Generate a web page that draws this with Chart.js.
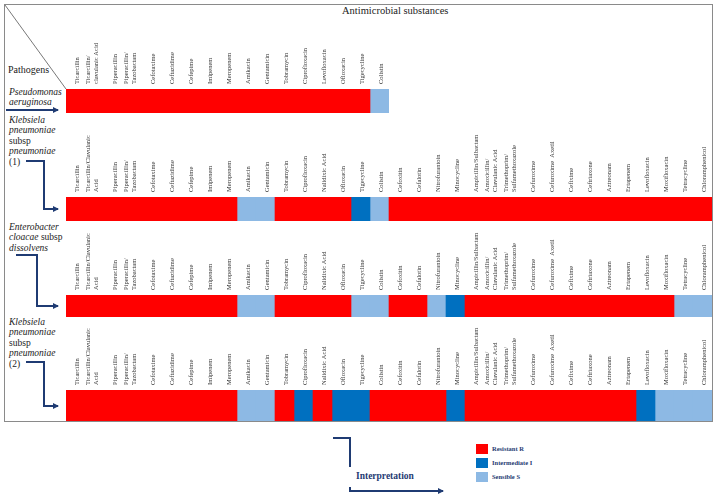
<!DOCTYPE html>
<html><head><meta charset="utf-8">
<script src="https://cdn.jsdelivr.net/npm/chart.js@4.4.0/dist/chart.umd.min.js"></script>
<style>
html,body{margin:0;padding:0;background:#fff;}
#wrap{position:relative;width:718px;height:499px;overflow:hidden;font-family:'Liberation Serif','Times New Roman',serif;color:#222;}
canvas{position:absolute;}
.t{position:absolute;white-space:nowrap;font-size:9.5px;line-height:10.4px;}
.i{font-style:italic;}
svg{position:absolute;left:0;top:0;}
.lg{position:absolute;left:476px;width:12px;height:10px;}
.lt{position:absolute;left:492px;font-size:6.5px;font-weight:bold;color:#1F3B73;white-space:nowrap;line-height:10px;}
</style></head><body>
<div id="wrap">
<svg width="718" height="499">
  <defs>
    <marker id="ah" markerWidth="6" markerHeight="6" refX="5" refY="3" orient="auto" markerUnits="userSpaceOnUse">
      <path d="M0,0 L6,3 L0,6 z" fill="#1F3B73"/>
    </marker>
  </defs>
  <rect x="4.5" y="4.5" width="708" height="417" fill="none" stroke="#8a8a8a" stroke-width="1"/>
  <line x1="5" y1="5" x2="66" y2="89" stroke="#555" stroke-width="0.8"/>
  <g fill="none" stroke="#1F3B73" stroke-width="2">
    <polyline points="6,110 58,110" marker-end="url(#ah)"/>
    <polyline points="26,161 44,161 44,209 58,209" marker-end="url(#ah)"/>
    <polyline points="16,255 37,255 37,306 58,306" marker-end="url(#ah)"/>
    <polyline points="26,362 44,362 44,406 58,406" marker-end="url(#ah)"/>
    <polyline points="333,438 350,438 350,467"/>
    <polyline points="350,487 350,491 443,491" marker-end="url(#ah)"/>
  </g>
</svg>
<canvas id="c1" width="323" height="93" style="left:66px;top:20px;width:323px;height:93px"></canvas>
<canvas id="c2" width="646" height="106" style="left:66px;top:115px;width:646px;height:106px"></canvas>
<canvas id="c3" width="646" height="94" style="left:66px;top:223px;width:646px;height:94px"></canvas>
<canvas id="c4" width="646" height="103" style="left:66px;top:318px;width:646px;height:103px"></canvas>

<div class="t" style="left:342px;top:6px;font-size:10.5px;">Antimicrobial substances</div>
<div class="t" style="left:8px;top:65px;font-size:10px;">Pathogens</div>
<div class="t i" style="left:9px;top:88px;line-height:9.8px;">Pseudomonas<br>aeruginosa</div>
<div class="t" style="left:9px;top:115px;"><span class="i">Klebsiela</span><br><span class="i">pneumoniae</span><br>subsp<br><span class="i">pneumoniae</span><br>(1)</div>
<div class="t" style="left:9px;top:222px;"><span class="i">Enterobacter</span><br><span class="i">cloacae</span> subsp<br><span class="i">dissolvens</span></div>
<div class="t" style="left:9px;top:317px;"><span class="i">Klebsiela</span><br><span class="i">pneumoniae</span><br>subsp<br><span class="i">pneumoniae</span><br>(2)</div>
<div class="t" style="left:356px;top:471px;font-size:9.5px;font-weight:bold;color:#1F3B73;">Interpretation</div>

<div class="lg" style="top:444px;background:#FF0000"></div>
<div class="lg" style="top:458px;background:#0070C0"></div>
<div class="lg" style="top:472px;background:#8DB9E4"></div>
<div class="lt" style="top:444px;">Resistant R</div>
<div class="lt" style="top:458px;">Intermediate I</div>
<div class="lt" style="top:472px;">Sensible S</div>
</div>
<script>
const pseudomonasDrugs = [
  'Ticarcillin', ['Ticarcillin/', 'clavulanic Acid'], 'Piperacillin', ['Piperacillin/', 'Tazobactam'],
  'Cefotaxime', 'Ceftazidime', 'Cefepime', 'Imipenem', 'Meropenem', 'Amikacin', 'Gentamicin',
  'Tobramycin', 'Ciprofloxacin', 'Levofloxacin', 'Ofloxacin', 'Tigecycline', 'Colistin'
];
const pseudomonasResults = ['R','R','R','R','R','R','R','R','R','R','R','R','R','R','R','R','S'];

const panelDrugs = [
  'Ticarcillin', ['Ticarcillin/Clavulanic', 'Acid'], 'Piperacillin', ['Piperacillin/', 'Tazobactam'],
  'Cefotaxime', 'Ceftazidime', 'Cefepime', 'Imipenem', 'Meropenem', 'Amikacin', 'Gentamicin',
  'Tobramycin', 'Ciprofloxacin', 'Nalidixic Acid', 'Ofloxacin', 'Tigecycline', 'Colistin',
  'Cefoxitin', 'Cefalotin', 'Nitrofurantoin', 'Minocycline', 'Ampicillin/Sulbactam',
  ['Amoxicillin/', 'Clavulanic Acid'], ['Trimethoprim/', 'Sulfamethoxazole'], 'Cefuroxime',
  'Cefuroxime  Axetil', 'Cefixime', 'Ceftriaxone', 'Aztreonam', 'Ertapenem', 'Levofloxacin',
  'Moxifloxacin', 'Tetracycline', 'Chloramphenicol'
];
const klebsiella1Results = ['R','R','R','R','R','R','R','R','R','S','S','R','R','R','R','I','S',
  'R','R','R','R','R','R','R','R','R','R','R','R','R','R','R','R','R'];
const enterobacterResults = ['R','R','R','R','R','R','R','R','R','S','S','R','R','R','R','S','S',
  'R','R','S','I','R','R','R','R','R','R','R','R','R','R','R','S','S'];
const klebsiella2Results = ['R','R','R','R','R','R','R','R','R','S','S','R','I','R','I','I','R',
  'R','R','R','I','R','R','R','R','R','R','R','R','R','I','S','S','S'];

const interpretationCodes = ['R', 'I', 'S'];
const interpretationLabels = ['Resistant R', 'Intermediate I', 'Sensible S'];
const interpretationColors = ['#FF0000', '#0070C0', '#8DB9E4'];

function makeRow(id, drugs, results, axisHeight) {
  const datasets = interpretationCodes.map((code, k) => ({
    label: interpretationLabels[k],
    data: results.map(r => (r === code ? [0, 1] : null)),
    backgroundColor: interpretationColors[k],
    borderWidth: 0,
    grouped: false,
    categoryPercentage: 1,
    barPercentage: 1
  }));
  new Chart(document.getElementById(id), {
    type: 'bar',
    data: { labels: drugs, datasets: datasets },
    options: {
      responsive: false,
      animation: false,
      layout: { padding: 0 },
      plugins: { legend: { display: false }, tooltip: { enabled: false } },
      scales: {
        x: {
          position: 'top',
          grid: { display: false, drawTicks: false },
          border: { display: false },
          ticks: {
            autoSkip: false, minRotation: 90, maxRotation: 90, padding: 5, labelOffset: 8.5, color: '#333',
            font: { family: 'Liberation Serif', size: 6.5, lineHeight: 1.1 }
          },
          afterFit: s => { s.height = axisHeight; s.paddingLeft = 0; s.paddingRight = 0; }
        },
        y: { display: false, min: 0, max: 1 }
      }
    }
  });
}

makeRow('c1', pseudomonasDrugs, pseudomonasResults, 69);
makeRow('c2', panelDrugs, klebsiella1Results, 82);
makeRow('c3', panelDrugs, enterobacterResults, 72);
makeRow('c4', panelDrugs, klebsiella2Results, 72);
</script>
</body></html>
